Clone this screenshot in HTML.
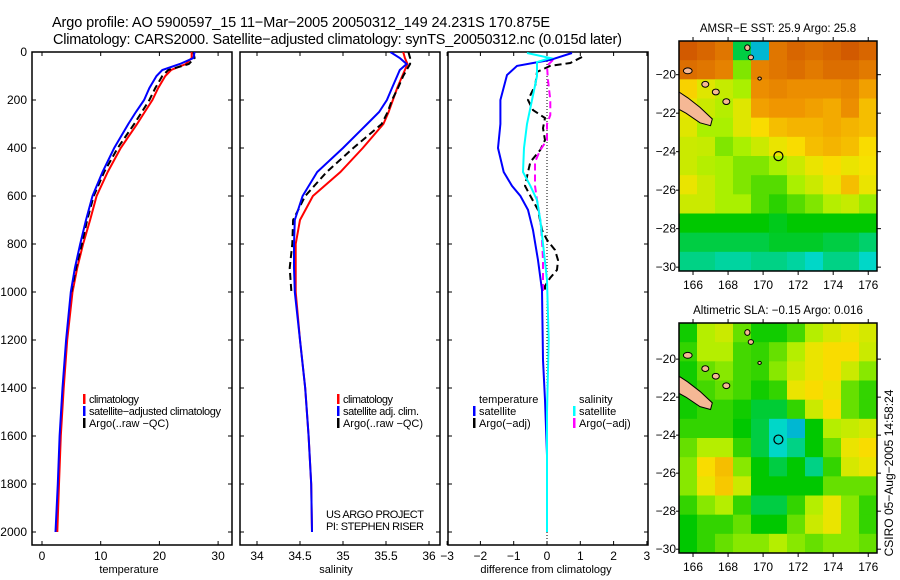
<!DOCTYPE html>
<html><head><meta charset="utf-8">
<style>
html,body{margin:0;padding:0;background:#fff;}
svg{display:block;font-family:"Liberation Sans",Helvetica,sans-serif;}
</style></head>
<body>
<svg id="fig" width="900" height="580" viewBox="0 0 900 580" xmlns="http://www.w3.org/2000/svg">
<text x="52" y="27" font-size="14.5" textLength="498">Argo profile: AO 5900597_15 11−Mar−2005 20050312_149 24.231S 170.875E</text>
<text x="53" y="44" font-size="14.5" textLength="569">Climatology: CARS2000. Satellite−adjusted climatology: synTS_20050312.nc (0.015d later)</text>
<g id="plots"></g>
<text transform="translate(893,473) rotate(-90)" font-size="12" text-anchor="middle">CSIRO 05−Aug−2005 14:58:24</text>
</svg>
<script>
// ---------- profile data ----------
const depths = [0,25,50,75,100,150,200,250,300,400,500,600,700,800,900,1000,1200,1400,1600,1800,2000];
const tempClim = [25.5,25.5,24.5,22,21,19.8,18.8,17.5,16.2,13.4,11.2,9.3,8.2,7.0,6.0,5.2,4.3,3.7,3.2,2.9,2.6];
const tempSat  = [26,25.8,23.5,20.5,19.5,18.3,17.4,16,14.7,12.3,10.3,8.6,7.5,6.5,5.6,4.9,4.1,3.5,3.0,2.7,2.3];
const tempArgo = [25.8,26,25,21.5,20.5,19.3,18.3,17,15.7,12.9,10.6,8.8,7.7,6.8,5.8,5.0,null,null,null,null,null];
const salClim  = [35.70,35.72,35.75,35.72,35.69,35.63,35.58,35.53,35.47,35.23,34.97,34.65,34.50,34.45,34.45,34.45,34.50,34.56,34.60,34.63,34.64];
const salSat   = [35.55,35.66,35.74,35.66,35.63,35.57,35.51,35.42,35.28,35.00,34.70,34.53,34.44,34.43,34.43,34.44,34.50,34.56,34.60,34.63,34.64];
const salArgo  = [35.76,35.78,35.78,35.74,35.70,35.64,35.57,35.52,35.45,35.12,34.81,34.56,34.42,34.41,34.38,34.40,null,null,null,null,null];
const dTempSatDepth = [4,33,58,96,200,300,400,500,558,600,658,742,867,992,1283,1450,1680,1875];
const dTempSat = [0.75,0.1,-0.9,-1.2,-1.4,-1.4,-1.47,-1.3,-1.05,-0.8,-0.57,-0.42,-0.27,-0.15,-0.12,-0.06,0,0];
const dSalSatDepth = [4,25,42,100,200,300,400,500,558,617,700,825,950,1200,1500,2000];
const dSalSat = [-0.6,0.1,-0.3,-0.3,-0.45,-0.6,-0.69,-0.72,-0.5,-0.3,-0.2,-0.1,0,0.05,0,0];
const dTempArgoDepth = [21,46,58,83,138,200,242,275,317,367,408,458,500,558,600,658,742,783,825,867,908,942,975,990];
const dTempArgo = [1.05,0.7,0.1,-0.3,-0.35,-0.57,-0.42,-0.06,-0.12,-0.06,-0.2,-0.5,-0.57,-0.66,-0.5,-0.27,-0.15,0,0.24,0.33,0.3,0.09,-0.06,-0.06];
const dSalArgoDepth = [33,58,117,200,263,300,367,408,458,517,558,617,700,783,867,950,1010];
const dSalArgo = [0.18,0,0.03,0.1,0.1,0,0,-0.2,-0.36,-0.36,-0.36,-0.3,-0.2,-0.15,-0.12,-0.12,-0.12];
const tempTicks = [0,10,20,30];
const salTicks = [34,34.5,35,35.5,36];
const salTickLabels = ["34","34.5","35","35.5","36"];
const diffTicks = [-3,-2,-1,0,1,2,3];
const depthTicks = [0,200,400,600,800,1000,1200,1400,1600,1800,2000];
// ---------- map data ----------
const mapLons = [165.2,176.5];
const mapLats = [-18.2,-30.2];
const lonTicks = [166,168,170,172,174,176];
const latTicks = [-20,-22,-24,-26,-28,-30];
const sstGrid = [
[.95,.92,.88,.25,.1,.88,.92,.9,.92,.95,.92],
[.9,.88,.85,.45,.85,.88,.9,.87,.9,.9,.87],
[.68,.6,.55,.5,.82,.84,.82,.82,.82,.84,.78],
[.62,.56,.52,.6,.78,.8,.8,.78,.76,.82,.72],
[.6,.5,.5,.6,.66,.72,.74,.74,.76,.74,.72],
[.56,.55,.45,.5,.56,.62,.66,.72,.74,.72,.66],
[.56,.52,.5,.45,.45,.5,.56,.62,.66,.62,.64],
[.62,.56,.5,.45,.4,.4,.5,.56,.62,.72,.62],
[.56,.56,.5,.5,.4,.35,.4,.45,.52,.55,.48],
[.3,.3,.3,.3,.3,.28,.3,.3,.3,.3,.3],
[.25,.25,.25,.25,.25,.27,.27,.27,.25,.25,.22],
[.2,.2,.18,.18,.2,.2,.18,.15,.2,.2,.15]];
const slaGrid = [
[.32,.52,.56,.42,.32,.32,.38,.52,.58,.62,.58],
[.36,.52,.52,.38,.36,.42,.52,.62,.66,.66,.56],
[.32,.42,.46,.38,.36,.46,.56,.62,.66,.56,.46],
[.32,.38,.42,.38,.32,.36,.62,.66,.62,.42,.36],
[.32,.36,.36,.32,.26,.26,.36,.56,.66,.42,.36],
[.36,.36,.36,.3,.25,.15,.1,.3,.52,.55,.58],
[.42,.52,.52,.36,.25,.15,.2,.3,.42,.62,.66],
[.46,.66,.72,.46,.3,.25,.3,.2,.36,.58,.62],
[.46,.62,.7,.56,.3,.3,.3,.3,.42,.42,.42],
[.36,.46,.52,.36,.25,.25,.36,.52,.62,.46,.36],
[.3,.36,.36,.42,.3,.3,.42,.56,.62,.46,.36],
[.3,.36,.42,.46,.46,.52,.46,.42,.46,.46,.42]];
const argoLon = 170.875, argoLat = -24.231;

const NS="http://www.w3.org/2000/svg";
const root=document.getElementById('plots');
function el(tag,attrs,parent){const e=document.createElementNS(NS,tag);for(const k in attrs)e.setAttribute(k,attrs[k]);(parent||root).appendChild(e);return e;}

const PT=52, PB=545;
const yD = d => 52 + d*0.24;
const panels = [
 {name:'temperature-panel', x0:32, x1:232, fx: v=>42+5.87*v, ticks:tempTicks, labels:tempTicks.map(String), xlabel:'temperature', lx:129},
 {name:'salinity-panel', x0:240, x1:440, fx: v=>300+86*(v-34.5), ticks:salTicks, labels:salTickLabels, xlabel:'salinity', lx:336},
 {name:'difference-panel', x0:448, x1:648, fx: v=>547+33.3*v, ticks:diffTicks, labels:diffTicks.map(v=>v<0?'−'+(-v):String(v)), xlabel:'difference from climatology', lx:546}
];
function line(g,name,ds,vs,fx,color,dash){
  let segs=[],cur=[];
  for(let i=0;i<ds.length;i++){ if(vs[i]==null){if(cur.length)segs.push(cur);cur=[];continue;} cur.push(fx(vs[i]).toFixed(1)+','+yD(ds[i]).toFixed(1)); }
  if(cur.length)segs.push(cur);
  segs.forEach(s=>{
    const p=el('polyline',{points:s.join(' '),fill:'none',stroke:color,'stroke-width':2,'stroke-dasharray':dash||'none'},g);
    
    
  });
}
panels.forEach((P,pi)=>{
  const g=el('g',{});
  
  
  const clip=el('clipPath',{id:'c'+pi},g); el('rect',{x:P.x0,y:PT,width:P.x1-P.x0,height:PB-PT},clip);
  const fr=el('rect',{x:P.x0,y:PT,width:P.x1-P.x0,height:PB-PT,fill:'none',stroke:'#000','stroke-width':1.5},g);
  
  
  depthTicks.forEach(d=>{
    el('line',{x1:P.x0,x2:P.x0+4,y1:yD(d),y2:yD(d),stroke:'#000'},g);
    el('line',{x1:P.x1-4,x2:P.x1,y1:yD(d),y2:yD(d),stroke:'#000'},g);
    if(pi===0){const t=el('text',{x:27,y:yD(d)+4,'font-size':12,'text-anchor':'end'},g);t.textContent=d;
      
      }
  });
  P.ticks.forEach((v,i)=>{
    const x=P.fx(v);
    el('line',{x1:x,x2:x,y1:PT,y2:PT+4,stroke:'#000'},g);
    el('line',{x1:x,x2:x,y1:PB-4,y2:PB,stroke:'#000'},g);
    const t=el('text',{x:x,y:560,'font-size':12,'text-anchor':'middle'},g);t.textContent=P.labels[i];
    
    
  });
  const xl=el('text',{x:P.lx,y:573,'font-size':11,'text-anchor':'middle'},g);xl.textContent=P.xlabel;
  
  
  const cg=el('g',{'clip-path':'url(#c'+pi+')'},g);
  if(pi===0){
    line(cg,'temp-climatology-line',depths,tempClim,P.fx,'#f00');
    line(cg,'temp-argo-line',depths,tempArgo,P.fx,'#000','7,4');
    line(cg,'temp-satellite-line',depths,tempSat,P.fx,'#00f');
  } else if(pi===1){
    line(cg,'sal-climatology-line',depths,salClim,P.fx,'#f00');
    line(cg,'sal-argo-line',depths,salArgo,P.fx,'#000','7,4');
    line(cg,'sal-satellite-line',depths,salSat,P.fx,'#00f');
  } else {
    el('line',{x1:P.fx(0),x2:P.fx(0),y1:PT,y2:PB-5,stroke:'#000','stroke-dasharray':'1,2'},cg);
    line(cg,'diff-temp-argo-line',dTempArgoDepth,dTempArgo,P.fx,'#000','7,4');
    line(cg,'diff-sal-argo-line',dSalArgoDepth,dSalArgo,P.fx,'#f0f','7,4');
    line(cg,'diff-temp-satellite-line',dTempSatDepth,dTempSat,P.fx,'#00f');
    line(cg,'diff-sal-satellite-line',dSalSatDepth,dSalSat,P.fx,'#0ff');
  }
});
function legend(x,y,items){
  const g=el('g',{});
  
  
  items.forEach((it,i)=>{
    const yy=y+i*12;
    if(it[0]) el('rect',{x:x,y:yy-10,width:2.5,height:10,fill:it[0]},g);
    const attrs={x:x+6,y:yy-1,'font-size':11};
    if(it[2]) attrs.textLength=it[2];
    const t=el('text',attrs,g);t.textContent=it[1];
    
    
  });
}
legend(83,404,[['#f00','climatology',50],['#00f','satellite−adjusted climatology',132],['#000','Argo(..raw −QC)',80]]);
legend(337,404,[['#f00','climatology',50],['#00f','satellite adj. clim.',76],['#000','Argo(..raw −QC)',80]]);
legend(473,404,[[null,'temperature'],['#00f','satellite'],['#000','Argo(−adj)']]);
legend(573,404,[[null,'salinity'],['#0ff','satellite'],['#f0f','Argo(−adj)']]);
{const t=el('text',{x:326,y:518,'font-size':11,textLength:98});t.textContent='US ARGO PROJECT';
 
 
 const t2=el('text',{x:326,y:530,'font-size':11,textLength:98});t2.textContent='PI: STEPHEN RISER';
 
 }

// ---------- maps ----------
function cmap(v){
  const stops=[[0,[0,120,230]],[0.15,[0,215,200]],[0.3,[0,200,0]],[0.5,[170,240,0]],[0.65,[250,225,0]],[0.8,[240,150,0]],[1,[200,70,0]]];
  for(let i=1;i<stops.length;i++){ if(v<=stops[i][0]){const a=stops[i-1],b=stops[i],t=(v-a[0])/(b[0]-a[0]);
    return 'rgb('+a[1].map((c,k)=>Math.round(c+(b[1][k]-c)*t)).join(',')+')';}}
  return 'rgb(200,70,0)';
}
function drawMap(name,top,grid,title,latTop){
  const L=679,R=877,H=230,B=top+H;
  const fx=lon=>L+(lon-mapLons[0])/(mapLons[1]-mapLons[0])*(R-L);
  const fy=lat=>top+(lat-latTop)/(mapLats[1]-latTop)*H;
  const g=el('g',{});
  
  
  const rows=grid.length, cols=grid[0].length;
  const dLon=(mapLons[1]-mapLons[0])/cols, dLat=(mapLats[1]-latTop)/rows;
  grid.forEach((row,r)=>row.forEach((v,c)=>{
    const x0=fx(mapLons[0]+c*dLon), x1=fx(mapLons[0]+(c+1)*dLon), y0=fy(latTop+r*dLat), y1=fy(latTop+(r+1)*dLat);
    const cell=el('rect',{x:x0,y:y0,width:x1-x0+0.5,height:y1-y0+0.5,fill:cmap(v)},g);
    
    
  }));
  const nc=[[165.2,-20.9],[165.7,-21.2],[166.4,-21.7],[167.1,-22.3],[167.0,-22.65],[166.4,-22.5],[165.6,-22.0],[165.2,-21.8]];
  const isl=el('polygon',{points:nc.map(p=>fx(p[0])+','+fy(p[1])).join(' '),fill:'#f5b895',stroke:'#000','stroke-width':1},g);
  
  
  [[165.7,-19.8,.25,.15],[166.7,-20.5,.2,.15],[167.3,-20.9,.2,.15],[167.9,-21.4,.2,.15],[169.1,-18.6,.15,.15],[169.3,-19.1,.15,.12],[169.8,-20.2,.1,.08]].forEach(p=>{
    const e=el('ellipse',{cx:fx(p[0]),cy:fy(p[1]),rx:p[2]*17.5,ry:p[3]*19.4,fill:'#f5b895',stroke:'#000'},g);
    
    
  });
  const c=el('circle',{cx:fx(argoLon),cy:fy(argoLat),r:4.5,fill:'none',stroke:'#000','stroke-width':1.2},g);
  
  
  el('rect',{x:L,y:top,width:R-L,height:H,fill:'none',stroke:'#000','stroke-width':1.5},g);
  lonTicks.forEach(v=>{
    const x=fx(v);
    el('line',{x1:x,x2:x,y1:top-4,y2:top,stroke:'#000'},g);
    el('line',{x1:x,x2:x,y1:B,y2:B+4,stroke:'#000'},g);
    const t=el('text',{x:x,y:B+18,'font-size':12,'text-anchor':'middle'},g);t.textContent=v;
    
    
  });
  latTicks.forEach(v=>{
    const y=fy(v);
    el('line',{x1:L-3,x2:L,y1:y,y2:y,stroke:'#000'},g);
    el('line',{x1:R,x2:R+4,y1:y,y2:y,stroke:'#000'},g);
    const t=el('text',{x:676,y:y+4,'font-size':12,'text-anchor':'end'},g);t.textContent='−'+(-v);
    
    
  });
  const tt=el('text',{x:(L+R)/2,y:top-9,'font-size':11.5,'text-anchor':'middle'},g);tt.textContent=title;
  
  
}
drawMap('sst-map',41,sstGrid,'AMSR−E SST: 25.9 Argo: 25.8',-18.25);
drawMap('sla-map',323,slaGrid,'Altimetric SLA: −0.15 Argo: 0.016',-18.1);
</script>
</body></html>
